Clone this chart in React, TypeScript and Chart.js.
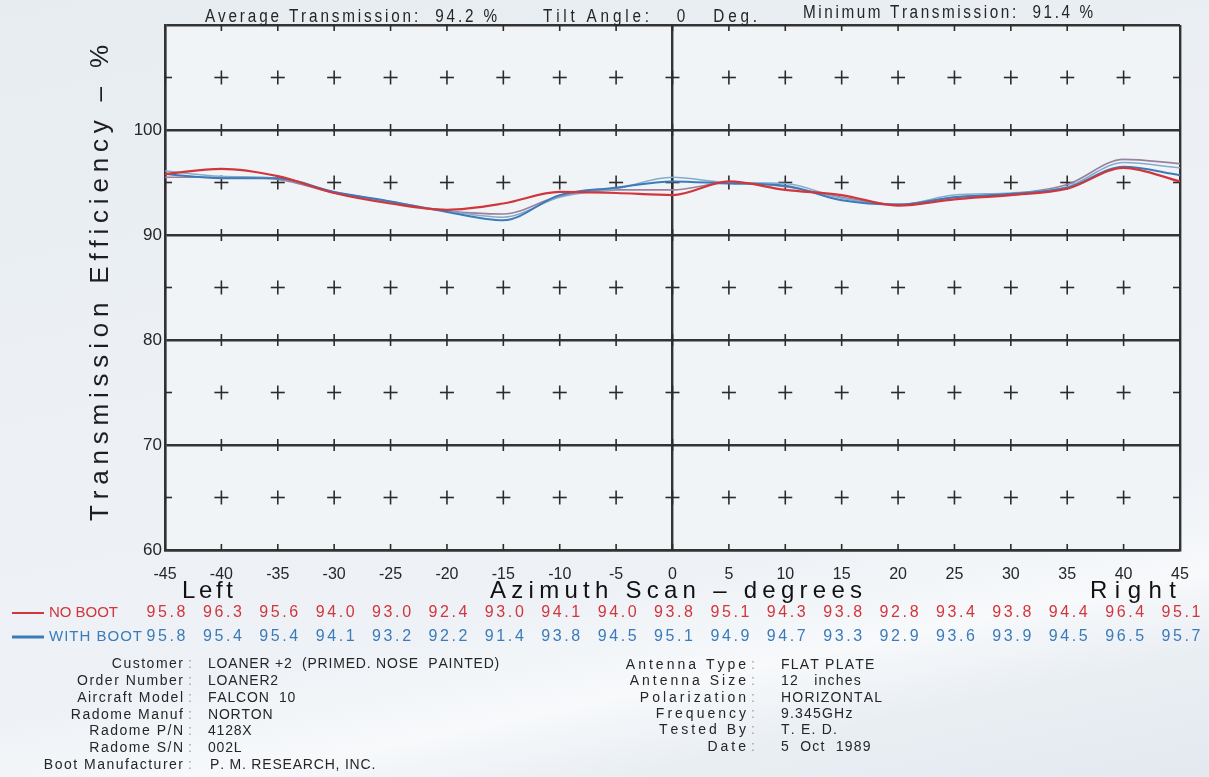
import React, { useEffect, useRef } from 'react';
import { Chart, registerables } from 'chart.js';

Chart.register(...registerables);

// ---------- data ----------
const azimuth = [-45, -40, -35, -30, -25, -20, -15, -10, -5, 0, 5, 10, 15, 20, 25, 30, 35, 40, 45];
const noBoot = [95.8, 96.3, 95.6, 94.0, 93.0, 92.4, 93.0, 94.1, 94.0, 93.8, 95.1, 94.3, 93.8, 92.8, 93.4, 93.8, 94.4, 96.4, 95.1];
const withBoot = [95.8, 95.4, 95.4, 94.1, 93.2, 92.2, 91.4, 93.8, 94.5, 95.1, 94.9, 94.7, 93.3, 92.9, 93.6, 93.9, 94.5, 96.5, 95.7];
// additional overlaid scan traces
const scanA = [96.1, 95.6, 95.4, 94.1, 93.2, 92.3, 91.7, 93.6, 94.4, 95.5, 95.0, 94.9, 93.5, 92.9, 93.8, 94.0, 94.6, 96.9, 96.4];
const scanB = [95.5, 95.5, 95.3, 94.0, 93.1, 92.3, 92.0, 93.7, 94.3, 94.3, 95.0, 94.6, 93.6, 92.9, 93.6, 93.9, 94.8, 97.2, 96.8];

const yLines = [60, 70, 80, 90, 100, 110];
const markRows = [65, 75, 85, 95, 105];

const headerTexts = ['Average Transmission:  94.2 %', 'Tilt Angle:   0   Deg.', 'Minimum Transmission:  91.4 %'];
const yTitle = 'Transmission Efficiency – %';
const xTitle = 'Azimuth Scan – degrees';
const leftWord = 'Left';
const rightWord = 'Right';
const seriesNames = ['NO BOOT', 'WITH BOOT'];

const infoLeftLabels = ['Customer', 'Order Number', 'Aircraft Model', 'Radome Manuf', 'Radome P/N', 'Radome S/N', 'Boot Manufacturer'];
const infoLeftValues = ['LOANER +2  (PRIMED. NOSE  PAINTED)', 'LOANER2', 'FALCON  10', 'NORTON', '4128X', '002L', 'P. M. RESEARCH, INC.'];
const infoRightLabels = ['Antenna Type', 'Antenna Size', 'Polarization', 'Frequency', 'Tested By', 'Date'];
const infoRightValues = ['FLAT PLATE', '12   inches', 'HORIZONTAL', '9.345GHz', 'T. E. D.', '5  Oct  1989'];

// ---------- styles ----------
const RED = '#d1363c';
const BLUE = '#3b7bb9';
const INK = '#262626';
const SANS = "'Liberation Sans', Arial, sans-serif";

function charWidths(ctx: CanvasRenderingContext2D, text: string) {
  return [...text].map((c) => ctx.measureText(c).width);
}

function drawFit(ctx: CanvasRenderingContext2D, text: string, x0: number, x1: number, y: number) {
  const chars = [...text];
  const w = charWidths(ctx, text);
  const total = w.reduce((a, b) => a + b, 0);
  const sp = chars.length > 1 ? (x1 - x0 - total) / (chars.length - 1) : 0;
  let cx = x0;
  chars.forEach((c, i) => {
    ctx.fillText(c, cx, y);
    cx += w[i] + sp;
  });
}

function drawFitNarrow(ctx: CanvasRenderingContext2D, text: string, x0: number, x1: number, y: number, sx: number) {
  ctx.save();
  ctx.translate(x0, y);
  ctx.scale(sx, 1);
  drawFit(ctx, text, 0, (x1 - x0) / sx, 0);
  ctx.restore();
}

function drawSpaced(ctx: CanvasRenderingContext2D, text: string, x: number, y: number, sp: number, align: 'left' | 'right' | 'center') {
  const chars = [...text];
  const w = charWidths(ctx, text);
  const total = w.reduce((a, b) => a + b, 0) + sp * (chars.length - 1);
  let cx = align === 'right' ? x - total : align === 'center' ? x - total / 2 : x;
  chars.forEach((c, i) => {
    ctx.fillText(c, cx, y);
    cx += w[i] + sp;
  });
}

const decorPlugin = {
  id: 'decor',
  beforeDraw(chart: any) {
    const { ctx, chartArea: a } = chart;
    ctx.save();
    ctx.fillStyle = '#f1f4f7';
    ctx.fillRect(a.left, a.top, a.right - a.left, a.bottom - a.top);
    ctx.restore();
  },
  beforeDatasetsDraw(chart: any) {
    const { ctx, chartArea: a, scales } = chart;
    const x = scales.x;
    const y = scales.y;
    ctx.save();
    ctx.beginPath();
    ctx.rect(a.left, a.top, a.right - a.left, a.bottom - a.top);
    ctx.clip();
    ctx.strokeStyle = '#2b2b2b';
    ctx.lineWidth = 1.6;
    const seg = (x0: number, y0: number, x1: number, y1: number) => {
      ctx.beginPath();
      ctx.moveTo(x0, y0);
      ctx.lineTo(x1, y1);
      ctx.stroke();
    };
    for (const az of azimuth) {
      const px = x.getPixelForValue(az);
      for (const lv of yLines) {
        const py = y.getPixelForValue(lv);
        seg(px, py - 6, px, py + 6);
      }
      for (const mv of markRows) {
        const py = y.getPixelForValue(mv);
        seg(px - 7, py, px + 7, py);
        seg(px, py - 7, px, py + 7);
      }
    }
    ctx.restore();
  },
  afterDraw(chart: any) {
    const { ctx, scales } = chart;
    const x = scales.x;
    ctx.save();
    ctx.textBaseline = 'middle';
    ctx.textAlign = 'left';

    // header (condensed)
    ctx.fillStyle = INK;
    ctx.font = `18px ${SANS}`;
    drawFitNarrow(ctx, headerTexts[0], 205, 497, 17, 0.85);
    drawFitNarrow(ctx, headerTexts[1], 543, 757, 17, 0.85);
    drawFitNarrow(ctx, headerTexts[2], 803, 1093, 13, 0.85);

    // y title
    ctx.save();
    ctx.font = `26px ${SANS}`;
    ctx.fillStyle = '#1e1e1e';
    ctx.translate(101, 283);
    ctx.rotate(-Math.PI / 2);
    drawFit(ctx, yTitle, -238, 238, 0);
    ctx.restore();

    // x title
    ctx.font = `24px ${SANS}`;
    ctx.fillStyle = '#111';
    drawFit(ctx, xTitle, 490, 862, 591);
    drawFit(ctx, leftWord, 182, 233, 591);
    drawFit(ctx, rightWord, 1090, 1176, 591);

    // legend + table
    const rows = [
      { vals: noBoot, color: RED, y: 613, name: seriesNames[0], end: 118, lw: 2 },
      { vals: withBoot, color: BLUE, y: 637, name: seriesNames[1], end: 142, lw: 3 },
    ];
    for (const r of rows) {
      ctx.strokeStyle = r.color;
      ctx.lineWidth = r.lw;
      ctx.beginPath();
      ctx.moveTo(12, r.y);
      ctx.lineTo(44, r.y);
      ctx.stroke();
      ctx.fillStyle = r.color;
      ctx.font = `15px ${SANS}`;
      drawFit(ctx, r.name, 49, r.end, r.y);
      ctx.font = `16px ${SANS}`;
      r.vals.forEach((v, i) => {
        drawSpaced(ctx, v.toFixed(1), x.getPixelForValue(azimuth[i]) + 1, r.y, 2.6, 'center');
      });
    }

    // info blocks
    ctx.font = `14px ${SANS}`;
    infoLeftLabels.forEach((lab, i) => {
      const yy = 664 + i * 16.9;
      ctx.fillStyle = INK;
      drawSpaced(ctx, lab, 183, yy, 1.5, 'right');
      ctx.fillStyle = '#a0a0a0';
      ctx.fillText(':', 188, yy);
      ctx.fillStyle = INK;
      drawSpaced(ctx, infoLeftValues[i], i === 6 ? 210 : 208, yy, 0.8, 'left');
    });
    infoRightLabels.forEach((lab, i) => {
      const yy = 665 + i * 16.4;
      ctx.fillStyle = INK;
      drawSpaced(ctx, lab, 746, yy, 3, 'right');
      ctx.fillStyle = '#a0a0a0';
      ctx.fillText(':', 751, yy);
      ctx.fillStyle = INK;
      drawSpaced(ctx, infoRightValues[i], 781, yy, 1.2, 'left');
    });
    ctx.restore();
  },
};

export default function App() {
  const ref = useRef<HTMLCanvasElement>(null);
  useEffect(() => {
    const toPts = (vals: number[]) => vals.map((v, i) => ({ x: azimuth[i], y: v }));
    const line = (label: string, vals: number[], color: string, width: number) => ({
      label,
      data: toPts(vals),
      borderColor: color,
      backgroundColor: color,
      borderWidth: width,
      pointRadius: 0,
      cubicInterpolationMode: 'monotone' as const,
      fill: false,
    });
    const chart = new Chart(ref.current!, {
      type: 'line',
      data: {
        datasets: [
          line(seriesNames[0], noBoot, RED, 2.2),
          line(seriesNames[1], withBoot, BLUE, 2),
          line('scan A', scanA, '#86aacb', 1.5),
          line('scan B', scanB, '#9a809c', 1.6),
        ],
      },
      options: {
        responsive: false,
        animation: false,
        devicePixelRatio: 1,
        layout: { padding: { left: 105, right: 29, top: 25, bottom: 187 } },
        plugins: { legend: { display: false }, tooltip: { enabled: false }, title: { display: false } },
        scales: {
          x: {
            type: 'linear',
            min: -45,
            max: 45,
            afterFit: (s: any) => { s.height = 40; },
            ticks: {
              stepSize: 5,
              color: INK,
              font: { family: SANS, size: 16 },
              padding: 15,
              maxRotation: 0,
              autoSkip: false,
            },
            grid: {
              drawTicks: false,
              color: (c: any) => (c.tick && (c.tick.value === 0 || Math.abs(c.tick.value) === 45) ? '#333' : 'rgba(0,0,0,0)'),
              lineWidth: 2.4,
            },
            border: { display: true, color: '#333', width: 2.4 },
          },
          y: {
            min: 60,
            max: 110,
            afterFit: (s: any) => { s.width = 60; },
            ticks: {
              stepSize: 10,
              color: INK,
              font: { family: SANS, size: 17 },
              padding: 3,
              callback: (v: any) => (v === 110 ? '' : String(v)),
            },
            grid: { drawTicks: false, color: '#333', lineWidth: 2.4 },
            border: { display: true, color: '#333', width: 2.4 },
          },
        },
      },
      plugins: [decorPlugin],
    });
    return () => chart.destroy();
  }, []);

  return (
    <div
      style={{
        position: 'fixed',
        inset: 0,
        background:
          'linear-gradient(168deg, #e7ecf1 0%, #edf1f5 45%, #eef2f6 70%, #f7f9fb 80%, #e9eef3 88%, #e4e9ef 100%)',
      }}
    >
      <canvas ref={ref} width={1209} height={777} style={{ position: 'absolute', left: 0, top: 0, width: 1209, height: 777 }} />
    </div>
  );
}
